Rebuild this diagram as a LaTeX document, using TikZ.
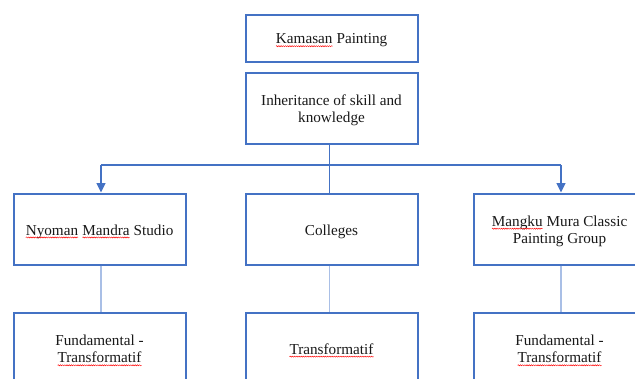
\documentclass[tikz,border=0pt]{standalone}
\usepackage{fontspec}
\setmainfont{Liberation Serif}
\usetikzlibrary{arrows.meta,decorations.pathmorphing}
\definecolor{boxblue}{HTML}{4472C4}
\definecolor{lineblue}{HTML}{A9BFE6}
\newcommand\spellerr[1]{\tikz[baseline=(sw.base)]{\node[inner sep=0pt,outer sep=0pt,minimum width=0pt,minimum height=0pt,draw=none,fill=none](sw){#1};\draw[red,line width=0.45pt,decorate,decoration={snake,amplitude=0.55pt,segment length=2.2pt}]([yshift=-2.3pt]sw.base west)--([yshift=-2.3pt]sw.base east);}}
\begin{document}
\begin{tikzpicture}[x=1pt,y=-1pt,
  box/.style={draw=boxblue,line width=2pt,fill=white,minimum width=172pt,inner sep=0pt},
  tallbox/.style={box,minimum height=71pt},
  shortbox/.style={box,minimum height=47pt},
  boxtext/.style={align=center,inner sep=0pt,font=\fontsize{15.2}{17.5}\selectfont,text=black!90},
  conn/.style={draw=boxblue,line width=1.2pt},
  arr/.style={conn,-{Triangle[width=9pt,length=9.5pt]}},
  thin/.style={draw=lineblue,line width=1.2pt}]
\useasboundingbox (0,0) rectangle (635,378);
\fill[white] (0,0) rectangle (635,378);
\node[shortbox] (kam) at (331.5,38) {};
\node[tallbox] (inh) at (331.5,108) {};
\node[tallbox] (nyo) at (99.5,229) {};
\node[tallbox] (col) at (331.5,229) {};
\node[tallbox] (man) at (559.5,229) {};
\node[tallbox] (fun1) at (99.5,348) {};
\node[tallbox] (tra) at (331.5,348) {};
\node[tallbox] (fun2) at (559.5,348) {};
\node[boxtext] (kamt) at ([yshift=-2.5pt]kam) {\spellerr{Kamasan} Painting};
\node[boxtext] (inht) at ([yshift=-2.5pt]inh) {Inheritance of skill and\\knowledge};
\node[boxtext] (nyot) at ([yshift=-2.5pt]nyo) {\spellerr{Nyoman} \spellerr{Mandra} Studio};
\node[boxtext] (colt) at ([yshift=-2.5pt]col) {Colleges};
\node[boxtext] (mant) at ([yshift=-2.5pt]man) {\spellerr{Mangku} Mura Classic\\Painting Group};
\node[boxtext] (fun1t) at ([yshift=-2.5pt]fun1) {Fundamental -\\\spellerr{Transformatif}};
\node[boxtext] (trat) at ([yshift=-2.5pt]tra) {\spellerr{Transformatif}};
\node[boxtext] (fun2t) at ([yshift=-2.5pt]fun2) {Fundamental -\\\spellerr{Transformatif}};
\coordinate (hl) at (0,165);
\draw[conn] ([xshift=-2pt]inh.south) -- ([xshift=-2pt]col.north);
\draw[conn] ([xshift=1.5pt]nyo.north |- hl) -- ([xshift=1.5pt]man.north |- hl);
\draw[arr] ([xshift=1.5pt]nyo.north |- hl) -- ([xshift=1.5pt]nyo.north);
\draw[arr] ([xshift=1.5pt]man.north |- hl) -- ([xshift=1.5pt]man.north);
\draw[thin] ([xshift=1.5pt]nyo.south) -- ([xshift=1.5pt]fun1.north);
\draw[thin] ([xshift=-2pt]col.south) -- ([xshift=-2pt]tra.north);
\draw[thin] ([xshift=1.5pt]man.south) -- ([xshift=1.5pt]fun2.north);
\end{tikzpicture}
\end{document}
